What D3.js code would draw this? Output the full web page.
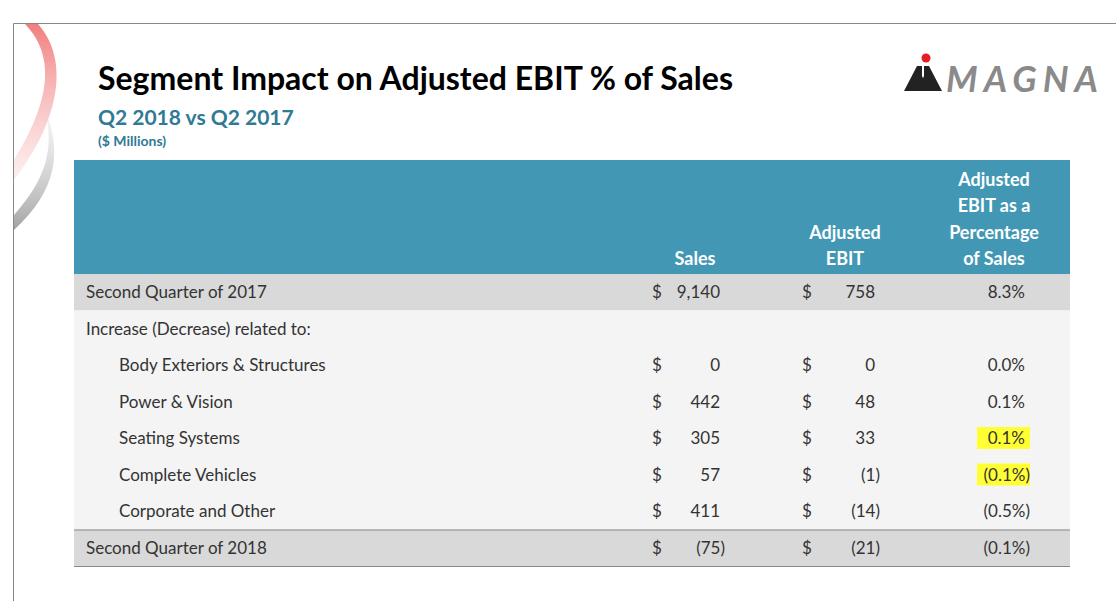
<!DOCTYPE html>
<html lang="en">
<head>
<meta charset="UTF-8" />
<script src="https://d3js.org/d3.v7.min.js"></script>
<style>
  body { margin: 0; background: #fff; }
  text { font-family: Lato, "Open Sans", sans-serif; }
</style>
</head>
<body>
<svg id="slide" width="1116" height="601"></svg>
<script>
const labels = ["Second Quarter of 2017", "Increase (Decrease) related to:", "Body Exteriors & Structures",
  "Power & Vision", "Seating Systems", "Complete Vehicles", "Corporate and Other", "Second Quarter of 2018"];
const sales = [9140, null, 442, 305, 57, 411, -75, 10280];
const ebit = [758, null, 48, 33, -1, -14, -21, 803];
const pct = [8.3, null, 0.1, 0.1, -0.1, -0.5, -0.1, 7.8];
const highlighted = [false, false, false, false, true, true, false, false];
const indent = [0, 0, 1, 1, 1, 1, 1, 0];

const svg = d3.select("#slide");

// slide frame
svg.append("path").attr("d", "M13.5,601 V23.5 H1116").attr("fill", "none").attr("stroke", "#888");

// swoosh decoration
const defs = svg.append("defs");
const gr = defs.append("linearGradient").attr("id", "red").attr("x1", 0).attr("y1", 0).attr("x2", 0).attr("y2", 1);
gr.append("stop").attr("offset", 0).attr("stop-color", "#f07070").attr("stop-opacity", 0.9);
gr.append("stop").attr("offset", 1).attr("stop-color", "#f5b0b0").attr("stop-opacity", 0.2);
const gg = defs.append("linearGradient").attr("id", "grey").attr("x1", 0).attr("y1", 0).attr("x2", 0).attr("y2", 1);
gg.append("stop").attr("offset", 0).attr("stop-color", "#e0e0e0").attr("stop-opacity", 0.3);
gg.append("stop").attr("offset", 1).attr("stop-color", "#999").attr("stop-opacity", 0.9);
svg.append("path").attr("d", "M14,160 C45,110 60,60 25,24 L38,24 C70,60 60,120 14,180 Z").attr("fill", "url(#red)");
svg.append("path").attr("d", "M14,215 C45,180 55,150 45,110 C62,150 58,190 14,230 Z").attr("fill", "url(#grey)");

// titles
svg.append("text").attr("x", 98).attr("y", 90).attr("font-family", "Liberation Sans, Arial").attr("font-weight", "bold")
  .attr("font-size", 32).attr("fill", "#000").text("Segment Impact on Adjusted EBIT % of Sales");
svg.append("text").attr("x", 98).attr("y", 125).attr("font-family", "Liberation Sans, Arial").attr("font-weight", "bold")
  .attr("font-size", 21).attr("fill", "#2f7a95").text("Q2 2018 vs Q2 2017");
svg.append("text").attr("x", 98).attr("y", 146).attr("font-family", "Liberation Sans, Arial").attr("font-weight", "bold")
  .attr("font-size", 14).attr("fill", "#2f7a95").text("($ Millions)");

// logo
svg.append("circle").attr("cx", 926).attr("cy", 58).attr("r", 4.5).attr("fill", "#e31e24");
svg.append("path").attr("d", "M904,91 L917,66 L922,66 L922,91 Z M924,91 L924,66 L929,66 L942,91 Z M916,91 L923,76 L930,91 Z").attr("fill", "#222");
svg.append("text").attr("x", 946).attr("y", 92).attr("font-family", "Liberation Sans, Arial").attr("font-weight", "bold")
  .attr("font-style", "italic").attr("font-size", 36).attr("fill", "#8a8a8a").attr("textLength", 152).text("MAGNA");

// table
const left = 74, right = 1070;
const headerTop = 160, headerBottom = 274;
svg.append("rect").attr("x", left).attr("y", headerTop).attr("width", right - left).attr("height", headerBottom - headerTop).attr("fill", "#4298b4");

const headers = [
  { x: 695, lines: ["Sales"] },
  { x: 845, lines: ["Adjusted", "EBIT"] },
  { x: 994, lines: ["Adjusted", "EBIT as a", "Percentage", "of Sales"] }
];
headers.forEach(h => {
  h.lines.forEach((l, i) => {
    svg.append("text").attr("x", h.x).attr("y", 265 - (h.lines.length - 1 - i) * 26.5)
      .attr("text-anchor", "middle").attr("font-weight", "bold").attr("font-size", 18).attr("fill", "#fff").text(l);
  });
});

const y = d3.scaleBand().domain(d3.range(labels.length)).range([headerBottom, 566]);
const fmt = d3.format(",");
const num = v => v < 0 ? "(" + fmt(-v) + ")" : fmt(v);
const pc = v => v < 0 ? "(" + d3.format(".1f")(-v) + "%)" : d3.format(".1f")(v) + "%";

const rows = svg.selectAll("g.row").data(labels).enter().append("g").attr("class", "row")
  .attr("transform", (d, i) => `translate(0,${y(i)})`);
rows.append("rect").attr("x", left).attr("width", right - left).attr("height", y.bandwidth())
  .attr("fill", (d, i) => (i === 0 || i === labels.length - 1) ? "#d9d9d9" : "#f4f4f4");

const ty = y.bandwidth() / 2 + 6;
// highlights
rows.filter((d, i) => highlighted[i]).append("rect").attr("x", 977).attr("y", 7).attr("width", 53).attr("height", 22).attr("fill", "#ffff33");

rows.append("text").attr("x", (d, i) => indent[i] ? 119 : 86).attr("y", ty)
  .attr("font-size", 17).attr("fill", "#333").text(d => d);

const numCols = [
  { vals: sales, dollar: 652, end: 720 },
  { vals: ebit, dollar: 802, end: 875 }
];
numCols.forEach(c => {
  rows.filter((d, i) => c.vals[i] !== null).append("text").attr("x", c.dollar).attr("y", ty)
    .attr("font-size", 17).attr("fill", "#333").text("$");
  rows.filter((d, i) => c.vals[i] !== null).append("text")
    .attr("x", (d, i) => c.vals[i] < 0 ? c.end + 5 : c.end).attr("y", ty).attr("text-anchor", "end")
    .attr("font-size", 17).attr("fill", "#333").text((d, i) => num(c.vals[i]));
});
rows.filter((d, i) => pct[i] !== null).append("text")
  .attr("x", (d, i) => pct[i] < 0 ? 1030 : 1025).attr("y", ty).attr("text-anchor", "end")
  .attr("font-size", 17).attr("fill", "#333").text((d, i) => pc(pct[i]));

// rules
[y(labels.length - 1), 566].forEach(v => svg.append("line").attr("x1", left).attr("x2", right)
  .attr("y1", v + 0.5).attr("y2", v + 0.5).attr("stroke", "#888"));
</script>
</body>
</html>
